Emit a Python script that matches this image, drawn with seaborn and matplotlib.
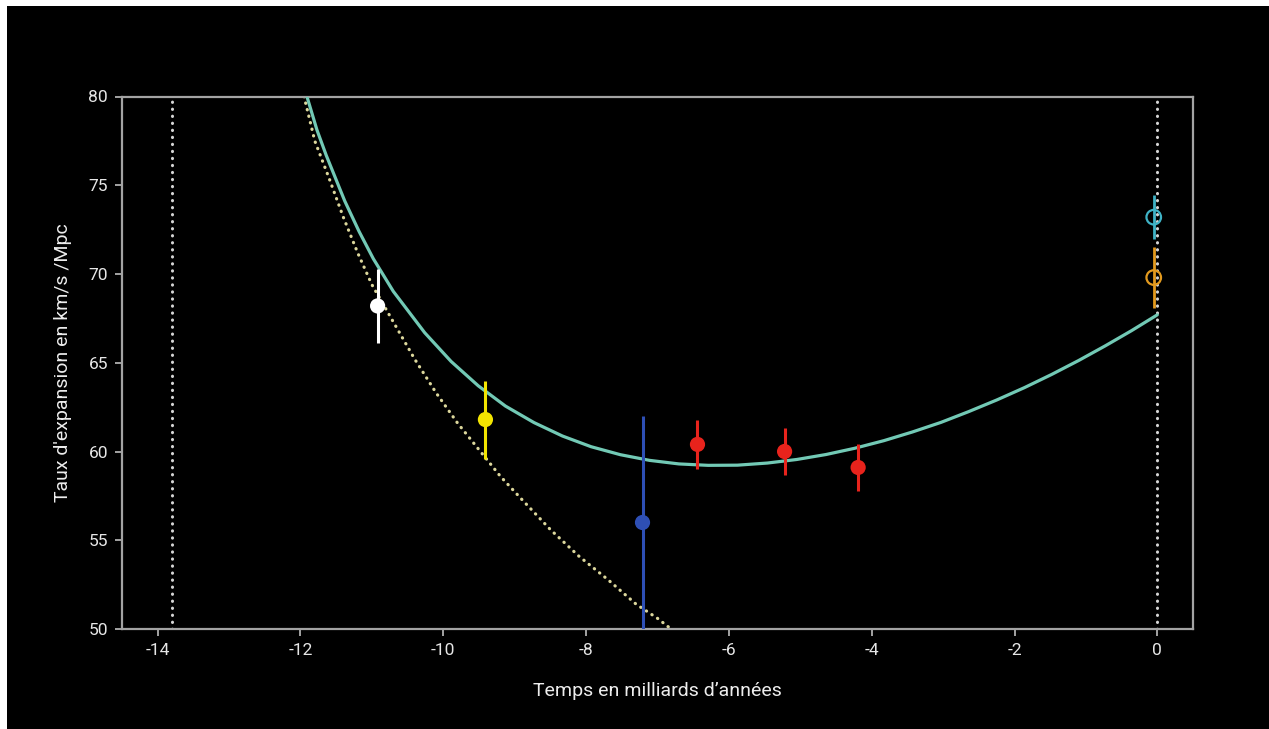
import matplotlib
matplotlib.use("Agg")
import matplotlib.pyplot as plt
import seaborn as sns
import pandas as pd
from matplotlib.patches import Rectangle

# ---------------- data ----------------
# Model curve (teal): time in Gyr (0 = today) vs expansion rate (km/s/Mpc)
curve_t = [-11.91, -11.77, -11.64, -11.38, -11.18, -10.98, -10.70, -10.26, -9.89,
           -9.51, -9.13, -8.73, -8.33, -7.93, -7.52, -7.11, -6.70, -6.29, -5.88,
           -5.46, -5.05, -4.64, -4.24, -3.83, -3.43, -3.03, -2.64, -2.25, -1.86,
           -1.48, -1.10, -0.73, -0.36, 0.0]
curve_h = [80.0, 78.12, 76.69, 74.11, 72.40, 70.86, 69.02, 66.69, 65.07,
           63.70, 62.56, 61.63, 60.87, 60.27, 59.82, 59.50, 59.30, 59.22, 59.23,
           59.35, 59.55, 59.83, 60.18, 60.61, 61.10, 61.64, 62.25, 62.90, 63.60,
           64.34, 65.13, 65.95, 66.81, 67.70]

# Dotted curve (decelerating model)
dot_t = [-11.95, -11.80, -11.60, -11.40, -11.20, -11.00, -10.70, -10.40, -10.10,
         -9.80, -9.50, -9.20, -8.90, -8.50, -8.10, -7.70, -7.30, -7.00, -6.81]
dot_h = [80.0, 77.5, 75.4, 73.2, 71.2, 69.4, 67.3, 65.2, 63.3,
         61.6, 60.1, 58.6, 57.3, 55.6, 54.1, 52.8, 51.4, 50.6, 50.0]

# Measurements
pt_t = [-10.92, -9.41, -7.21, -6.44, -5.22, -4.19]
pt_h = [68.2, 61.8, 56.0, 60.4, 60.0, 59.1]
pt_err = [2.1, 2.2, 6.0, 1.4, 1.3, 1.35]
pt_color = ["#ffffff", "#f2e400", "#2e4fb5", "#e8231c", "#e8231c", "#e8231c"]

# Present-day measurements (open circles)
now_t = [-0.05, -0.05]
now_h = [73.2, 69.8]
now_err = [1.25, 1.7]
now_color = ["#3fb3c6", "#e39a1e"]

# Reference vertical lines (Big Bang, today)
vline_t = [-13.8, 0.0]

x_ticks = [-14, -12, -10, -8, -6, -4, -2, 0]
y_ticks = [50, 55, 60, 65, 70, 75, 80]
x_label = "Temps en milliards d\u2019années"
y_label = "Taux d'expansion en km/s /Mpc"

# ---------------- style ----------------
sns.set_theme(style="dark")
plt.rcParams["font.family"] = ["Roboto", "DejaVu Sans"]

fig = plt.figure(figsize=(12.69, 7.29), dpi=100, facecolor="white")
fig.patches.append(Rectangle((7 / 1269, 0), 1, 1 - 6 / 729, transform=fig.transFigure,
                             facecolor="black", edgecolor="none", zorder=-10))
ax = fig.add_axes([122 / 1269, 1 - 629 / 729, (1193 - 122) / 1269, (629 - 96.5) / 729])
ax.set_facecolor("black")

# vertical dotted reference lines
ax.vlines(vline_t, 50, 80, colors="#d6d6d6", linewidth=2.2,
          linestyles=[(0, (0.1, 2.2))], capstyle="round", zorder=1)

df_dot = pd.DataFrame({"t": dot_t, "h": dot_h})
sns.lineplot(data=df_dot, x="t", y="h", ax=ax, color="#dcd79c", linewidth=2.3,
             linestyle=(0, (0.1, 2.0)), dash_capstyle="round", zorder=2)

df_curve = pd.DataFrame({"t": curve_t, "h": curve_h})
sns.lineplot(data=df_curve, x="t", y="h", ax=ax, color="#72c9b5", linewidth=2.3, zorder=3)

# error bars + markers
for t, h, e, c in zip(pt_t, pt_h, pt_err, pt_color):
    ax.errorbar([t], [h], yerr=[e], fmt="none", ecolor=c, elinewidth=2.2, zorder=4)
df_pts = pd.DataFrame({"t": pt_t, "h": pt_h, "c": pt_color})
sns.scatterplot(data=df_pts, x="t", y="h", hue="c", palette={c: c for c in pt_color},
                s=120, edgecolor="none", legend=False, ax=ax, zorder=5)

for t, h, e, c in zip(now_t, now_h, now_err, now_color):
    ax.errorbar([t], [h], yerr=[e], fmt="none", ecolor=c, elinewidth=2.0, zorder=4)
df_now = pd.DataFrame({"t": now_t, "h": now_h, "c": now_color})
sns.scatterplot(data=df_now, x="t", y="h", hue="c", palette={c: c for c in now_color},
                s=110, marker="o", legend=False, ax=ax, zorder=5)
for coll in ax.collections[-1:]:
    coll.set_facecolor("none")
    coll.set_edgecolors(now_color)
    coll.set_linewidth(1.6)

ax.set_xlim(-14.5, 0.5)
ax.set_ylim(50, 80)
ax.set_xticks(x_ticks)
ax.set_yticks(y_ticks)
ax.set_xticklabels([str(v) for v in x_ticks])
ax.set_yticklabels([str(v) for v in y_ticks])
ax.grid(False)

for s in ax.spines.values():
    s.set_visible(True)
    s.set_color("#a3a3a3")
    s.set_linewidth(1.6)

ax.tick_params(axis="both", which="major", direction="out", length=5, width=1.4,
               color="#a3a3a3", labelcolor="#e6e6e6", labelsize=12.5, pad=5,
               bottom=True, left=True)
ax.set_xlabel(x_label, color="#ededed", fontsize=14, labelpad=17)
ax.set_ylabel(y_label, color="#ededed", fontsize=14, labelpad=12)

fig.savefig("out.png", dpi=100, facecolor=fig.get_facecolor())
